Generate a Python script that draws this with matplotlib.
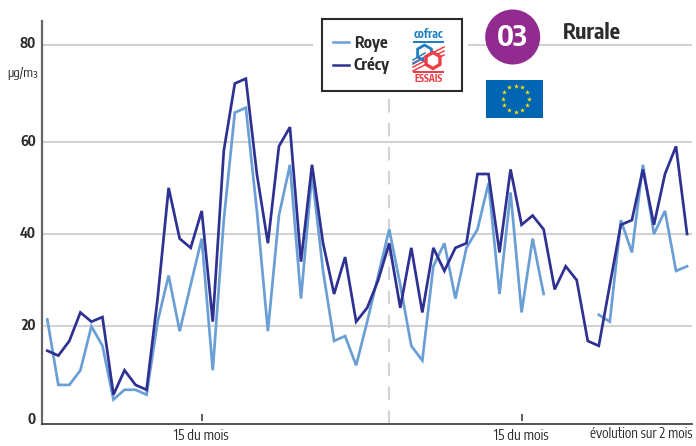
import numpy as np
import matplotlib
matplotlib.use("Agg")
import matplotlib.pyplot as plt
from matplotlib.patches import Circle, Rectangle, RegularPolygon

plt.rcParams['font.family'] = ['Encode Sans Condensed', 'Archivo Narrow', 'Liberation Sans', 'DejaVu Sans']

roye = [21.5, 8, 8, 11, 20, 16, 5, 7, 7, 6, 21, 31, 19, 29, 39, 11, 43, 66, 67, 45,
        19, 44, 55, 26, 53, 32, 17, 18, 12, 21, 31, 41, 29, 16, 13, 33, 38, 26, 37, 41,
        51, 27, 49, 23, 39, 27, None, None, None, None, 22.5, 21, 43, 36, 55, 40, 45, 32, 33]
crecy = [15, 14, 17, 23, 21, 22, 6, 11, 8, 7, 26, 50, 39, 37, 45, 21, 58, 72, 73, 53,
         38, 59, 63, 34, 55, 38, 27, 35, 21, 24, 30, 38, 24, 37, 23, 37, 32, 37, 38, 53,
         53, 36, 54, 42, 44, 41, 28, 33, 30, 17, 16, 29, 42, 43, 54, 42, 53, 59, 40]
y_ticks = [0, 20, 40, 60, 80]
tick_days = [14, 43]
tick_label = "15 du mois"
split_day = 31
series_names = ["Roye", "Crécy"]
BLUE, NAVY = "#6a9fd6", "#2e3192"
GRID, TXT = "#d2d2d2", "#2b2b2b"

W, H = 696, 446
fig = plt.figure(figsize=(W/100, H/100), dpi=100)
L, R, T, B = 42, 692, 21, 424
ax = fig.add_axes([L/W, 1-B/H, (R-L)/W, (B-T)/H])

# printed scale is slightly uneven between gridlines
vs = [0, 20, 40, 60, 80, 85]
ps = [0, 97.7, 190, 282.3, 379.3, 403]
ax.set_yscale('function', functions=(lambda v: np.interp(v, vs, ps), lambda p: np.interp(p, ps, vs)))
ax.set_ylim(0, 85)
px = 11.03
x0 = (47.3-L)/px
ax.set_xlim(-x0, (R-L)/px - x0)

xs = np.arange(len(crecy))
ry = np.array([np.nan if v is None else v for v in roye], float)
ax.set_yticks([]); ax.set_xticks([])
xmax = ax.get_xlim()[1]
xlo = ax.get_xlim()[0]
gx = lambda p: (p-L)/px - x0
for v in y_ticks[1:4]:
    ax.plot([xlo, xmax], [v, v], color=GRID, lw=1.5, zorder=1, solid_capstyle='butt')
ax.plot([xlo, gx(313)], [80, 80], color=GRID, lw=1.5, zorder=1, solid_capstyle='butt')
ax.plot([gx(468), xmax], [80, 80], color=GRID, lw=1.5, zorder=1, solid_capstyle='butt')
ax.plot([split_day-0.0]*2, [0, 69], color=GRID, lw=1.5, dashes=(6.5, 5), zorder=1)
for d in tick_days:
    ax.plot([d, d], [0.6, 2.1], color="#333333", lw=1.1, zorder=2, solid_capstyle='butt')
ax.plot(xs, ry, color=BLUE, lw=1.95, zorder=3, solid_joinstyle='miter')
ax.plot(xs, crecy, color=NAVY, lw=1.95, zorder=4, solid_joinstyle='miter')
for s in ['top', 'right']:
    ax.spines[s].set_visible(False)
ax.spines['left'].set_color("#666666"); ax.spines['left'].set_linewidth(1.6)
ax.spines['bottom'].set_color("#444444"); ax.spines['bottom'].set_linewidth(1.3)

# overlay in pixel coordinates for the labels and badges
ov = fig.add_axes([0, 0, 1, 1], facecolor='none')
ov.set_xlim(0, W); ov.set_ylim(H, 0); ov.axis('off')

for v, yp in zip(y_ticks, [420, 326, 234, 142, 43]):
    ov.text(36, yp, str(v), ha='right', va='center', fontsize=10, fontweight='bold', color=TXT)
ov.text(23, 73, "µg/m³", ha='center', va='center', fontsize=9.5, color=TXT)
for d in tick_days:
    ov.text(47.3+d*px-0.5, 436, tick_label, ha='center', va='center', fontsize=10, color=TXT)
ov.text(641.5, 434, "évolution sur 2 mois", ha='center', va='center', fontsize=9.7, color=TXT)

# legend box
ov.add_patch(Rectangle((322, 19), 139.5, 72, fc='white', ec='#2a2a2a', lw=1.5, zorder=5))
ov.plot([333, 349], [42, 42], color=BLUE, lw=1.8, zorder=6)
ov.plot([333, 349], [65, 65], color=NAVY, lw=1.8, zorder=6)
ov.text(370.5, 43, series_names[0], ha='center', va='center', fontsize=11.5, fontweight='bold', color=TXT, zorder=6)
ov.text(372, 65, series_names[1], ha='center', va='center', fontsize=11.5, fontweight='bold', color=TXT, zorder=6)

# cofrac logo
LB, LR = "#1e7fc2", "#ee3f46"
ov.text(428.5, 34, "cofrac", ha='center', va='center', fontsize=8.5, fontweight='bold', color=LB, zorder=6)
ov.add_patch(Rectangle((413, 41), 31, 2, fc=LB, ec='none', zorder=6))
ov.add_patch(RegularPolygon((424.5, 53), 6, radius=8, orientation=0, fc='none', ec=LB, lw=2, zorder=6))
for dy in (0, 4, 8):
    ov.plot([413, 444], [71-dy, 55-dy], color=LR, lw=1.1, zorder=6, clip_on=True)
for dy in (0, 4):
    ov.plot([413, 425], [60+dy, 53+dy], color=LB, lw=1.1, zorder=6)
ov.add_patch(RegularPolygon((433, 60.5), 6, radius=8, orientation=0, fc='white', ec=LR, lw=2.4, zorder=7))
ov.add_patch(Rectangle((413, 71), 31, 2, fc=LR, ec='none', zorder=6))
ov.text(428.5, 78, "ESSAIS", ha='center', va='center', fontsize=7, fontweight='bold', color=LR, zorder=6)

# title badge
ov.add_patch(Circle((512.7, 37), 27.5, fc='#922b8f', ec='none', zorder=6))
ov.text(512.7, 37.5, "03", ha='center', va='center', fontsize=21, fontweight='bold', color='white', zorder=7)
ov.text(592, 33, "Rurale", ha='center', va='center', fontsize=15.5, fontweight='bold', color=TXT, zorder=6)

# EU flag
ov.add_patch(Rectangle((486, 80), 57, 38, fc='#0065b3', ec='none', zorder=6))
ang = np.deg2rad(np.arange(12)*30)
ov.scatter(515.5+13*np.sin(ang), 98.5-13*np.cos(ang), marker='*', s=14, c='#ffe000', linewidths=0, zorder=7)

fig.savefig("out.png", dpi=100)
